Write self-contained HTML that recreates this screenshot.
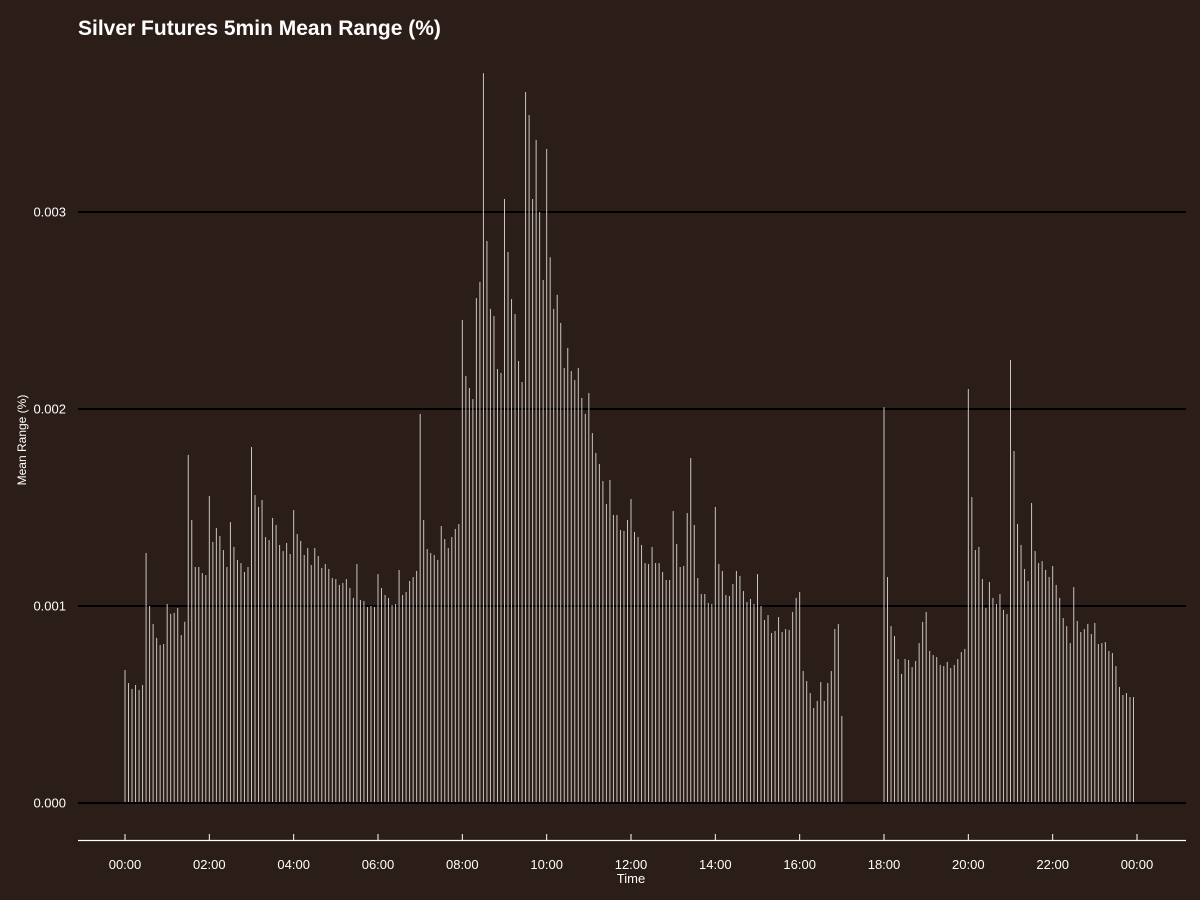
<!DOCTYPE html>
<html>
<head>
<meta charset="utf-8">
<style>
  html,body{margin:0;padding:0;background:#2b1d17;}
  svg{display:block;}
  text{font-family:"Liberation Sans",Arial,sans-serif;fill:#ffffff;}
</style>
</head>
<body>
<svg id="chart" width="1200" height="900" viewBox="0 0 1200 900" xmlns="http://www.w3.org/2000/svg">
  <rect x="0" y="0" width="1200" height="900" fill="#2b1d17"/>
  <text x="78" y="35" font-size="21" font-weight="bold">Silver Futures 5min Mean Range (%)</text>
  <g id="grid"></g>
  <g id="bars"></g>
  <g id="xaxis"></g>
  <g id="yaxis"></g>
  <text x="631" y="883" font-size="13" text-anchor="middle">Time</text>
  <text x="0" y="0" font-size="12" text-anchor="middle" transform="translate(26,440) rotate(-90)">Mean Range (%)</text>
</svg>
<script>
// values in units of 0.001 (%), one per 5-minute slot starting 00:00; null = no data
const seg1 = [0.675,0.609,0.579,0.599,0.574,0.599,1.269,1.0,0.909,0.838,0.802,0.807,1.01,0.96,0.965,0.99,0.853,0.92,1.767,1.437,1.198,1.198,1.167,1.157,1.558,1.325,1.396,1.355,1.284,1.198,1.426,1.3,1.234,1.218,1.173,1.198,1.807,1.563,1.503,1.538,1.35,1.335,1.447,1.411,1.31,1.279,1.32,1.264];
const seg2 = [1.487,1.365,1.33,1.259,1.294,1.208,1.294,1.254,1.193,1.213,1.188,1.142,1.137,1.107,1.117,1.137,1.091,1.041,1.213,1.03,1.025,0.995,1.0,0.995,1.162,1.091,1.056,1.041,1.005,1.01,1.183,1.056,1.071,1.127,1.147,1.178,1.975,1.437,1.289,1.269,1.259,1.234,1.406,1.34,1.294,1.35,1.391,1.416];
const seg3 = [2.452,2.167,2.107,2.05,2.563,2.645,3.705,2.853,2.508,2.472,2.203,2.183,3.066,2.797,2.558,2.482,2.244,2.137,3.609,3.492,3.066,3.366,3.0,2.655,3.32,2.77,2.508,2.58,2.437,2.208,2.31,2.193,2.147,2.208,2.056,1.975,2.081,1.878,1.777,1.721,1.634,1.518,1.64,1.462,1.462,1.386,1.381,1.437,1.543];
const seg4 = [1.376,1.35,1.31,1.218,1.213,1.3,1.218,1.218,1.173,1.132,1.132,1.482,1.315,1.198,1.203,1.472,1.751,1.411,1.142,1.061,1.061,1.015,1.01,1.503,1.213,1.178,1.056,1.051,1.112,1.178,1.152,1.076,1.02,1.036,1.01,1.162,1.0,0.929,0.954,0.863,0.873,0.944,0.868,0.883,0.878,0.97,1.041,1.071,0.67,0.619,0.558,0.482,0.518,0.614,0.518,0.609,0.67,0.883,0.909,0.442];
const gap = [null,null,null,null,null,null,null,null,null,null,null];
const seg5 = [2.009,1.147,0.898,0.848,0.731,0.655,0.731,0.726,0.690,0.721,0.812,0.919,0.970,0.772,0.751,0.741,0.701,0.695,0.716,0.685,0.701,0.731,0.766,0.782,2.102,1.553,1.284,1.3,1.137,0.99,1.122,1.041,1.01,1.061,0.98,0.959];
const seg6 = [2.249,1.787,1.416,1.31,1.188,1.127,1.523,1.279,1.218,1.228,1.183,1.147,1.203,1.107,1.041,0.939,0.898,0.812,1.096,0.924,0.868,0.883,0.909,0.858,0.914,0.807,0.812,0.817,0.772,0.761,0.695,0.589,0.548,0.558,0.538,0.538];
const values = seg1.concat(seg2, seg3, seg4, gap, seg5, seg6);
const yTicks = [0, 1, 2, 3];
const yTickLabels = ["0.000", "0.001", "0.002", "0.003"];
const xTickHours = [0, 2, 4, 6, 8, 10, 12, 14, 16, 18, 20, 22, 24];
const xTickLabels = ["00:00","02:00","04:00","06:00","08:00","10:00","12:00","14:00","16:00","18:00","20:00","22:00","00:00"];

const NS = "http://www.w3.org/2000/svg";
const X0 = 125, X1 = 1137, Y0 = 803, PX_PER_UNIT = 197;
function xScale(minutes){ return X0 + minutes / 1440 * (X1 - X0); }
function yScale(v){ return Y0 - v * PX_PER_UNIT; }
function mk(tag, attrs){ const e = document.createElementNS(NS, tag); for (const k in attrs) e.setAttribute(k, attrs[k]); return e; }

const grid = document.getElementById('grid');
const yaxis = document.getElementById('yaxis');
yTicks.forEach((t, i) => {
  const ln = mk('line', {x1:78, x2:1186, y1:yScale(t), y2:yScale(t), stroke:'#000000', 'stroke-width':2});
  
  
  grid.appendChild(ln);
  const tx = mk('text', {x:66, y:yScale(t) + 4.5, 'font-size':13, 'text-anchor':'end'});
  tx.textContent = yTickLabels[i];
  
  
  yaxis.appendChild(tx);
});

const bars = document.getElementById('bars');
values.forEach((v, i) => {
  if (v === null) return;
  const x = xScale(i * 5);
  const top = yScale(v);
  const r = mk('rect', {x:(x - 0.5).toFixed(2), y:top.toFixed(2), width:1, height:(Y0 - top).toFixed(2), fill:'#c9c5c1'});
  
  
  bars.appendChild(r);
});
const zl = mk('line', {x1:78, x2:1186, y1:Y0, y2:Y0, stroke:'#000000', 'stroke-width':2});


bars.appendChild(zl);

const xaxis = document.getElementById('xaxis');
const axl = mk('line', {x1:78, x2:1186, y1:840.5, y2:840.5, stroke:'#ffffff', 'stroke-width':1.2});


xaxis.appendChild(axl);
xTickHours.forEach((h, i) => {
  const x = xScale(h * 60);
  const tk = mk('line', {x1:x, x2:x, y1:834, y2:840, stroke:'#ffffff', 'stroke-width':1});
  
  
  xaxis.appendChild(tk);
  const tx = mk('text', {x:x, y:869, 'font-size':13, 'text-anchor':'middle'});
  tx.textContent = xTickLabels[i];
  
  
  xaxis.appendChild(tx);
});
</script>
</body>
</html>
